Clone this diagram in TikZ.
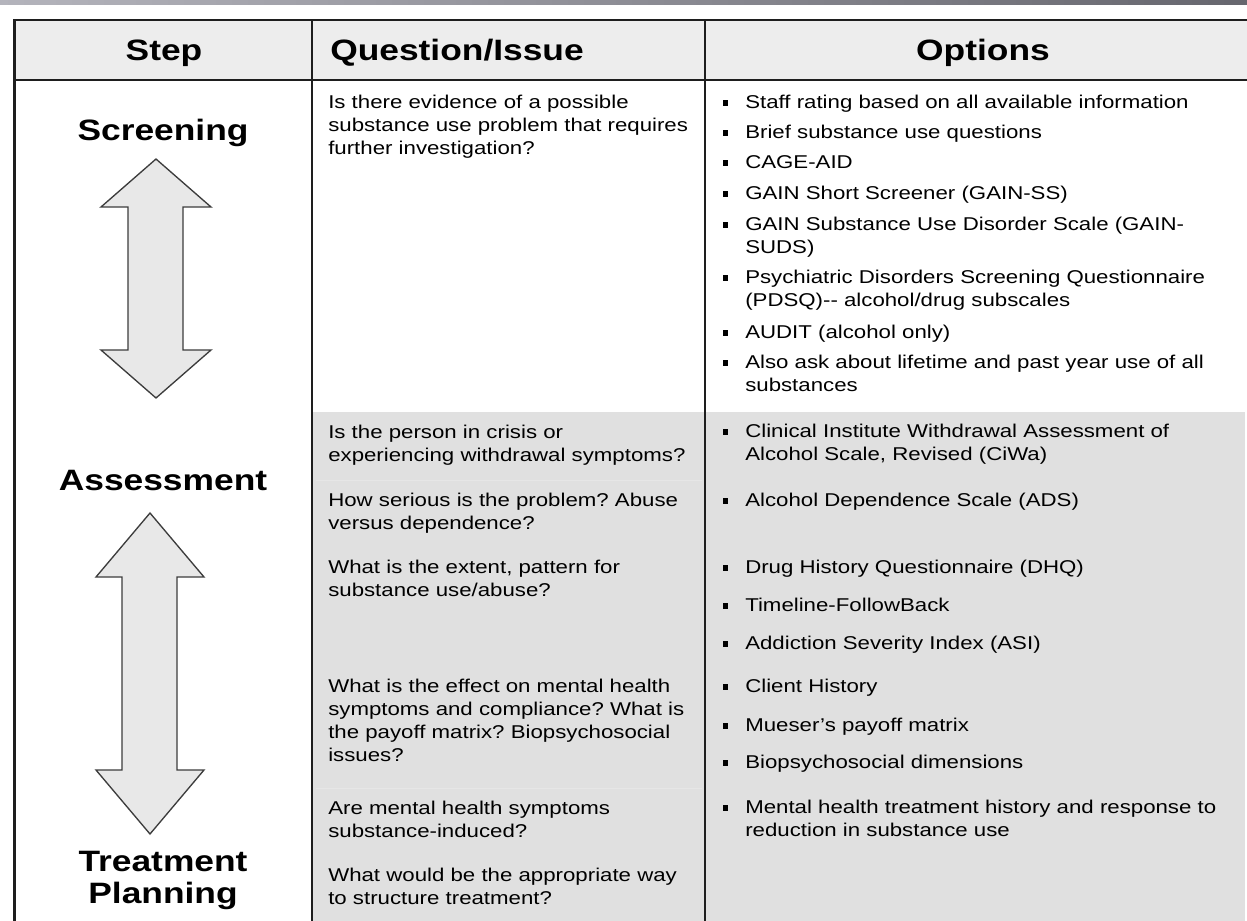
\documentclass[tikz,border=0pt]{standalone}
\usepackage{fontspec}
\setmainfont[FakeStretch=1.2]{Liberation Sans}
\frenchspacing
\definecolor{hdrbg}{HTML}{EDEDED}
\definecolor{graybg}{HTML}{E0E0E0}
\definecolor{arrowfill}{HTML}{E8E8E8}
\definecolor{arrowline}{HTML}{3C3C3C}
\definecolor{gridcol}{HTML}{1E1E1E}
\definecolor{barleft}{HTML}{B4B4BC}
\definecolor{barright}{HTML}{66666E}
\definecolor{faintline}{HTML}{E6E6E6}
\newcommand{\bodyfnt}{\frenchspacing\fontsize{13.9pt}{17.25pt}\selectfont}
\newcommand{\headfnt}{\fontsize{22.1pt}{23.3pt}\selectfont\bfseries}
\newcommand{\sqbullet}{\leavevmode\llap{\rule[1.6pt]{4.2pt}{4.2pt}\hspace{12.8pt}}}
\begin{document}
\begin{tikzpicture}[x=0.75pt,y=-0.75pt,
  body/.style={anchor=base west,inner sep=0pt,align=left,font=\bodyfnt},
  qtext/.style={body,text width=285pt},
  otext/.style={body,text width=370pt},
  head/.style={anchor=base,inner sep=0pt,font=\headfnt,align=center},
  gridline/.style={draw=gridcol,line width=1.2pt},
  bigarrow/.style={draw=arrowline,fill=arrowfill,line width=1pt,line join=miter},
]
\useasboundingbox (0,0) rectangle (1247,921);
\fill[white] (0,0) rectangle (1247,921);
\shade[left color=barleft,right color=barright] (0,0) rectangle (1247,4);
% backgrounds
\fill[hdrbg] (14,20) rectangle (1247,80);
\fill[graybg] (313,412) rectangle (1245,921);
\draw[faintline,line width=0.6pt] (316,480) -- (702,480);
\draw[faintline,line width=0.6pt] (316,788) -- (702,788);
% grid
\draw[gridline,line width=1.5pt] (14,20) -- (1247,20);
\draw[gridline] (14,80) -- (1247,80);
\draw[gridline] (312,20) -- (312,921);
\draw[gridline] (705,20) -- (705,921);
\draw[gridcol,line width=2.4pt] (14.5,19) -- (14.5,921);
% arrows
\draw[bigarrow] (156,159) -- (211,207) -- (183,207) -- (183,350) -- (211,350)
  -- (156,398) -- (101,350) -- (128,350) -- (128,207) -- (101,207) -- cycle;
\draw[bigarrow] (150,513) -- (204,577) -- (177,577) -- (177,770) -- (204,770)
  -- (150,834) -- (96,770) -- (122,770) -- (122,577) -- (96,577) -- cycle;
% headers
\node[head] (hstep) at (164,60) {Step};
\node[head,anchor=base west] (hquest) at (330,60) {Question/Issue};
\node[head] (hopt) at (983,60) {Options};
% steps
\node[head] (screening) at (163,140) {Screening};
\node[head] (assessment) at (163,490) {Assessment};
\node[head,text width=220pt] (planning) at (163,871) {Treatment\\[1.2pt]Planning};
% questions
\node[qtext] (q1) at (328,108) {Is there evidence of a possible\\substance use problem that requires\\further investigation?};
\node[qtext] (q2) at (328,438) {Is the person in crisis or\\experiencing withdrawal symptoms?};
\node[qtext] (q3) at (328,506) {How serious is the problem? Abuse\\versus dependence?};
\node[qtext] (q4) at (328,573) {What is the extent, pattern for\\substance use/abuse?};
\node[qtext] (q5) at (328,692) {What is the effect on mental health\\symptoms and compliance? What is\\the payoff matrix? Biopsychosocial\\issues?};
\node[qtext] (q6) at (328,814) {Are mental health symptoms\\substance-induced?};
\node[qtext] (q7) at (328,881) {What would be the appropriate way\\to structure treatment?};
% options
\node[otext] (o1) at (745,108) {\sqbullet Staff rating based on all available information};
\node[otext] (o2) at (745,138) {\sqbullet Brief substance use questions};
\node[otext] (o3) at (745,168) {\sqbullet CAGE-AID};
\node[otext] (o4) at (745,199) {\sqbullet GAIN Short Screener (GAIN-SS)};
\node[otext] (o5) at (745,230) {\sqbullet GAIN Substance Use Disorder Scale (GAIN-\\SUDS)};
\node[otext] (o6) at (745,283) {\sqbullet Psychiatric Disorders Screening Questionnaire\\(PDSQ)-{}- alcohol/drug subscales};
\node[otext] (o7) at (745,338) {\sqbullet AUDIT (alcohol only)};
\node[otext] (o8) at (745,368) {\sqbullet Also ask about lifetime and past year use of all\\substances};
\node[otext] (o9) at (745,437) {\sqbullet Clinical Institute Withdrawal Assessment of\\Alcohol Scale, Revised (CiWa)};
\node[otext] (o10) at (745,506) {\sqbullet Alcohol Dependence Scale (ADS)};
\node[otext] (o11) at (745,573) {\sqbullet Drug History Questionnaire (DHQ)};
\node[otext] (o12) at (745,611) {\sqbullet Timeline-FollowBack};
\node[otext] (o13) at (745,649) {\sqbullet Addiction Severity Index (ASI)};
\node[otext] (o14) at (745,692) {\sqbullet Client History};
\node[otext] (o15) at (745,731) {\sqbullet Mueser's payoff matrix};
\node[otext] (o16) at (745,768) {\sqbullet Biopsychosocial dimensions};
\node[otext] (o17) at (745,813) {\sqbullet Mental health treatment history and response to\\reduction in substance use};
\end{tikzpicture}
\end{document}
